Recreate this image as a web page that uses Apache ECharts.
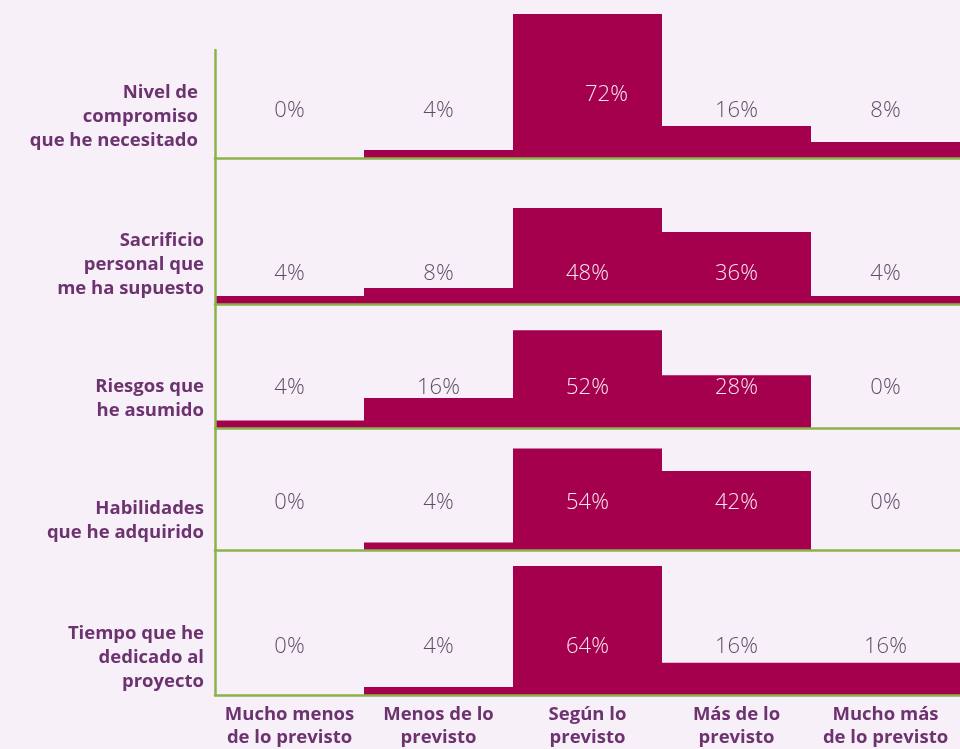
<!DOCTYPE html>
<html>
<head>
<meta charset="utf-8">
<script src="https://cdn.jsdelivr.net/npm/echarts@6/dist/echarts.min.js"></script>
<style>
  html, body { margin: 0; padding: 0; background: #f7f0f8; }
  #chart { width: 960px; height: 749px; }
</style>
</head>
<body>
<div id="chart"></div>
<script>
// categorías del eje x
const categories = [
  'Mucho menos\nde lo previsto',
  'Menos de lo\nprevisto',
  'Según lo\nprevisto',
  'Más de lo\nprevisto',
  'Mucho más\nde lo previsto'
];
// etiquetas de cada fila
const rowNames = [
  'Nivel de\ncompromiso\nque he necesitado',
  'Sacrificio\npersonal que\nme ha supuesto',
  'Riesgos que\nhe asumido',
  'Habilidades\nque he adquirido',
  'Tiempo que he\ndedicado al\nproyecto'
];
// valores (%) por fila
const compromiso = [0, 4, 72, 16, 8];
const sacrificio = [4, 8, 48, 36, 4];
const riesgos = [4, 16, 52, 28, 0];
const habilidades = [0, 4, 54, 42, 0];
const tiempo = [0, 4, 64, 16, 16];
const rows = [compromiso, sacrificio, riesgos, habilidades, tiempo];

// layout de cada banda (px)
const bandTop = [50, 158, 304, 428, 550];
const bandBottom = [158, 304, 428, 550, 696];
const pxPerPct = [2.0, 2.0, 1.88, 1.88, 2.03];
const labelRise = [50, 33, 43, 50, 51];
const titleTop = [81, 229, 375, 497, 622];
const titleRight = [198, 204, 204, 204, 204];

const BAR = '#a5004d';
const GREEN = '#8bb34a';
const PURPLE = '#6d3370';
const GRAY = '#5e4d68';

const chart = echarts.init(document.getElementById('chart'));

const grid = [], xAxis = [], yAxis = [], series = [], title = [];

rows.forEach((vals, i) => {
  const h = bandBottom[i] - bandTop[i];
  grid.push({ left: 215, right: 0, top: bandTop[i], height: h });
  xAxis.push({
    type: 'category',
    gridIndex: i,
    data: categories,
    z: 5,
    axisLine: { lineStyle: { color: GREEN, width: 2.5 } },
    axisTick: { show: false },
    axisLabel: {
      show: i === rows.length - 1,
      margin: 8,
      fontFamily: 'Open Sans',
      fontWeight: 'bold',
      fontSize: 18.5,
      lineHeight: 23,
      color: PURPLE,
      interval: 0
    }
  });
  yAxis.push({
    type: 'value',
    gridIndex: i,
    min: 0,
    max: h / pxPerPct[i],
    z: 5,
    axisLine: { show: true, lineStyle: { color: GREEN, width: 2.5 } },
    axisTick: { show: false },
    axisLabel: { show: false },
    splitLine: { show: false }
  });
  const dist = labelRise[i] - 14;
  series.push({
    type: 'bar',
    xAxisIndex: i,
    yAxisIndex: i,
    barWidth: '100%',
    barCategoryGap: 0,
    clip: false,
    itemStyle: { color: BAR },
    label: {
      show: true,
      position: 'insideBottom',
      distance: dist,
      formatter: '{c}%',
      fontFamily: 'Open Sans',
      fontWeight: 300,
      fontSize: 22
    },
    data: vals.map((v, j) => {
      const inside = v * pxPerPct[i] > labelRise[i] + 8;
      const item = { value: v, label: { color: inside ? '#f6e6ef' : GRAY } };
      if (i === 0 && j === 2) item.label.offset = [19, -16];
      return item;
    })
  });
  title.push({
    text: rowNames[i],
    left: titleRight[i],
    top: titleTop[i],
    padding: 0,
    textAlign: 'right',
    textStyle: {
      fontFamily: 'Open Sans',
      fontWeight: 'bold',
      fontSize: 18.5,
      lineHeight: 24,
      color: PURPLE
    }
  });
});

chart.setOption({
  backgroundColor: '#f7f0f8',
  animation: false,
  title: title,
  grid: grid,
  xAxis: xAxis,
  yAxis: yAxis,
  series: series
});
</script>
</body>
</html>
